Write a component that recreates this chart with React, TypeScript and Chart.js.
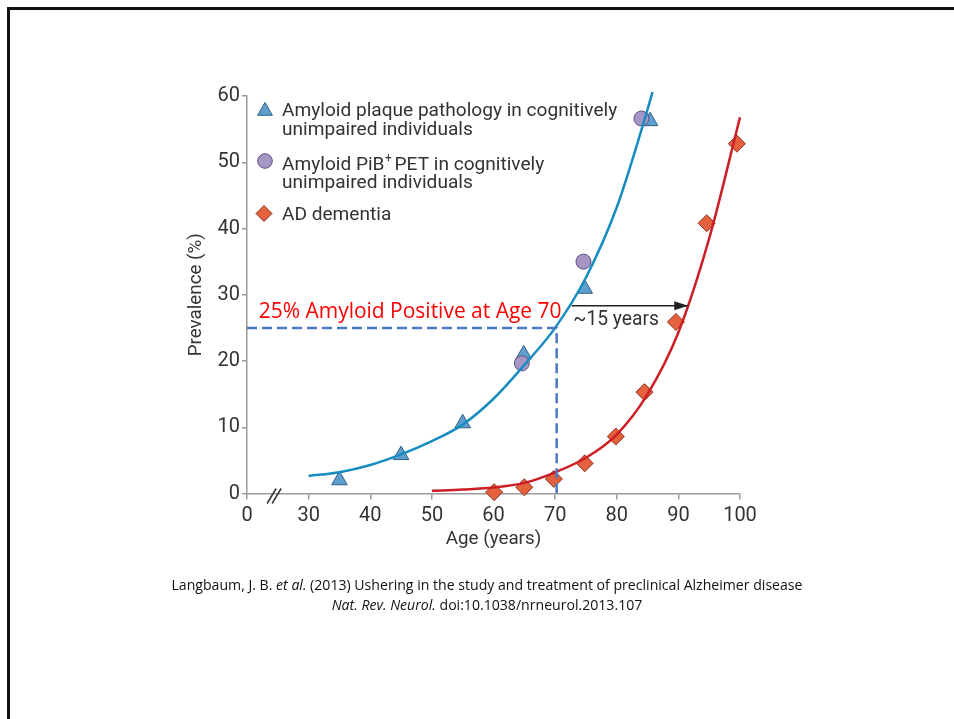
import { useEffect, useRef } from 'react';
import { Chart, registerables } from 'chart.js';

Chart.register(...registerables);

// ---------- data ----------
const xTickValues = [20, 30, 40, 50, 60, 70, 80, 90, 100];
const xTickLabels = ['0', '30', '40', '50', '60', '70', '80', '90', '100'];

const blueCurveAges = [30, 35, 40, 45, 50, 55, 60, 65, 70, 75, 80, 85, 85.8];
const blueCurveVals = [2.65, 3.2, 4.3, 5.9, 7.9, 10.4, 14.3, 19.4, 25.0, 32.6, 43.2, 58.0, 60.6];

const redCurveAges = [50, 55, 60, 65, 70, 75, 80, 85, 90, 95, 100];
const redCurveVals = [0.4, 0.6, 0.9, 1.6, 3.2, 5.4, 8.9, 15.0, 24.3, 38.5, 56.8];

const plaqueAges = [35, 45, 55, 64.9, 74.8, 85.4];
const plaqueVals = [2.0, 5.8, 10.6, 21.0, 30.9, 56.2];

const pibAges = [64.6, 74.6, 84.0];
const pibVals = [19.65, 35.0, 56.6];

const adAges = [60.1, 65.0, 69.8, 74.8, 79.85, 84.5, 89.6, 94.6, 99.5];
const adVals = [0.2, 0.94, 2.2, 4.55, 8.6, 15.3, 25.9, 40.8, 52.8];

const guideAges = [20, 70.25, 70.25];
const guideVals = [25, 25, 0];

const arrowAges = [72.7, 91.6];
const arrowVal = 28.35;

const legendLines = [
  ['Amyloid plaque pathology in cognitively', 'unimpaired individuals'],
  ['Amyloid PiB', '+', ' PET in cognitively', 'unimpaired individuals'],
  ['AD dementia'],
];
const redNote = '25% Amyloid Positive at Age 70';
const yearsNote = '~15 years';
const citeLine1a = 'Langbaum, J. B. ';
const citeLine1b = 'et al.';
const citeLine1c = ' (2013) Ushering in the study and treatment of preclinical Alzheimer disease';
const citeLine2a = 'Nat. Rev. Neurol.';
const citeLine2b = ' doi:10.1038/nrneurol.2013.107';

// ---------- styles ----------
const BLUE_LINE = '#168cc0';
const RED_LINE = '#cc1e24';
const TRI_FILL = '#5f9fcf';
const TRI_STROKE = '#2f5f80';
const CIR_FILL = '#a696c6';
const CIR_STROKE = '#5e4f80';
const DIA_FILL = '#e5603c';
const DIA_STROKE = '#8a3320';
const TEXT = '#333333';
const AXIS = '#9a9a9a';
const FONT = 'Roboto';

function drawTriangle(ctx: CanvasRenderingContext2D, x: number, y: number, r: number) {
  ctx.beginPath();
  for (let i = 0; i < 3; i++) {
    const a = (i * 2 * Math.PI) / 3;
    const px = x + Math.sin(a) * r;
    const py = y - Math.cos(a) * r;
    if (i === 0) ctx.moveTo(px, py);
    else ctx.lineTo(px, py);
  }
  ctx.closePath();
  ctx.fillStyle = TRI_FILL;
  ctx.strokeStyle = TRI_STROKE;
  ctx.lineWidth = 1;
  ctx.fill();
  ctx.stroke();
}
function drawCircle(ctx: CanvasRenderingContext2D, x: number, y: number, r: number) {
  ctx.beginPath();
  ctx.arc(x, y, r, 0, Math.PI * 2);
  ctx.fillStyle = CIR_FILL;
  ctx.strokeStyle = CIR_STROKE;
  ctx.lineWidth = 1;
  ctx.fill();
  ctx.stroke();
}
function drawDiamond(ctx: CanvasRenderingContext2D, x: number, y: number, r: number) {
  ctx.beginPath();
  ctx.moveTo(x - r, y);
  ctx.lineTo(x, y - r);
  ctx.lineTo(x + r, y);
  ctx.lineTo(x, y + r);
  ctx.closePath();
  ctx.fillStyle = DIA_FILL;
  ctx.strokeStyle = DIA_STROKE;
  ctx.lineWidth = 1;
  ctx.fill();
  ctx.stroke();
}

const overlayPlugin = {
  id: 'overlay',
  afterDraw(chart: any) {
    const { ctx, chartArea } = chart;
    const xs = chart.scales.x;
    const ys = chart.scales.y;
    ctx.save();

    // axis break marker
    const bx = xs.getPixelForValue(24.4);
    const by = ys.getPixelForValue(0) + 2;
    ctx.strokeStyle = '#333';
    ctx.lineWidth = 1.5;
    for (const off of [-2.5, 2.5]) {
      ctx.beginPath();
      ctx.moveTo(bx + off - 4.5, by + 8);
      ctx.lineTo(bx + off + 4.5, by - 7);
      ctx.stroke();
    }

    // arrow head
    const tipX = xs.getPixelForValue(arrowAges[1]);
    const tipY = ys.getPixelForValue(arrowVal);
    ctx.fillStyle = '#222';
    ctx.beginPath();
    ctx.moveTo(tipX, tipY);
    ctx.lineTo(tipX - 14, tipY - 4.5);
    ctx.lineTo(tipX - 14, tipY + 4.5);
    ctx.closePath();
    ctx.fill();

    // red note, fitted to its width in the reference
    ctx.font = `20px "Open Sans"`;
    const w20 = ctx.measureText(redNote).width;
    const size = (20 * 303) / w20;
    ctx.font = `${size}px "Open Sans"`;
    ctx.fillStyle = '#ff0000';
    ctx.textBaseline = 'alphabetic';
    ctx.textAlign = 'left';
    ctx.fillText(redNote, xs.getPixelForValue(21.9), ys.getPixelForValue(26.45));

    // ~15 years
    ctx.font = `19.3px ${FONT}`;
    ctx.fillStyle = TEXT;
    ctx.fillText(yearsNote, xs.getPixelForValue(72.95), ys.getPixelForValue(25.5));

    // legend
    const lx = chartArea.left + 18;
    const tx = chartArea.left + 35;
    const top = chartArea.top;
    drawTriangle(ctx, lx, top + 15, 8.5);
    drawCircle(ctx, lx, top + 65, 7.3);
    drawDiamond(ctx, lx - 1, top + 117.5, 8);
    ctx.fillStyle = TEXT;
    const lf = `19.1px ${FONT}`;
    ctx.font = lf;
    ctx.fillText(legendLines[0][0], tx, top + 20);
    ctx.fillText(legendLines[0][1], tx, top + 38.5);
    // PiB+ line with superscript
    let cx = tx;
    ctx.fillText(legendLines[1][0], cx, top + 73.5);
    cx += ctx.measureText(legendLines[1][0]).width + 0.5;
    ctx.font = `12px ${FONT}`;
    ctx.fillText(legendLines[1][1], cx, top + 66);
    cx += ctx.measureText(legendLines[1][1]).width - 2;
    ctx.font = lf;
    ctx.fillText(legendLines[1][2], cx, top + 73.5);
    ctx.fillText(legendLines[1][3], tx, top + 92);
    ctx.fillText(legendLines[2][0], tx, top + 124);

    ctx.restore();
  },
};

export default function App() {
  const ref = useRef<HTMLCanvasElement>(null);

  useEffect(() => {
    const canvas = ref.current!;
    const toXY = (xs: number[], ys: number[]) => xs.map((x, i) => ({ x, y: ys[i] }));

    const chart = new Chart(canvas, {
      type: 'scatter',
      data: {
        datasets: [
          {
            label: 'Amyloid fit',
            data: toXY(blueCurveAges, blueCurveVals),
            showLine: true,
            borderColor: BLUE_LINE,
            borderWidth: 2.5,
            pointRadius: 0,
            cubicInterpolationMode: 'monotone',
            clip: false,
            order: 1,
          },
          {
            label: 'AD fit',
            data: toXY(redCurveAges, redCurveVals),
            showLine: true,
            borderColor: RED_LINE,
            borderWidth: 2.5,
            pointRadius: 0,
            cubicInterpolationMode: 'monotone',
            clip: false,
            order: 1,
          },
          {
            label: '25% guide',
            data: toXY(guideAges, guideVals),
            showLine: true,
            borderColor: '#4a78c4',
            borderWidth: 2.5,
            borderDash: [10, 5],
            pointRadius: 0,
            tension: 0,
            clip: false,
            order: 0,
          },
          {
            label: 'arrow',
            data: toXY(arrowAges, arrowAges.map(() => arrowVal)),
            showLine: true,
            borderColor: '#222',
            borderWidth: 1.5,
            pointRadius: 0,
            clip: false,
            order: 0,
          },
          {
            label: 'Amyloid plaque pathology in cognitively unimpaired individuals',
            data: toXY(plaqueAges, plaqueVals),
            pointStyle: 'triangle',
            pointRadius: 9,
            backgroundColor: TRI_FILL,
            borderColor: TRI_STROKE,
            borderWidth: 1,
            clip: false,
            order: 4,
          },
          {
            label: 'Amyloid PiB+ PET in cognitively unimpaired individuals',
            data: toXY(pibAges, pibVals),
            pointStyle: 'circle',
            pointRadius: 7.5,
            backgroundColor: CIR_FILL,
            borderColor: CIR_STROKE,
            borderWidth: 1,
            clip: false,
            order: 3,
          },
          {
            label: 'AD dementia',
            data: toXY(adAges, adVals),
            pointStyle: 'rectRot',
            pointRadius: 8.5,
            backgroundColor: DIA_FILL,
            borderColor: DIA_STROKE,
            borderWidth: 1,
            clip: false,
            order: 3,
          },
        ],
      },
      options: {
        responsive: false,
        maintainAspectRatio: false,
        animation: false,
        events: [],
        layout: { padding: { left: 180, top: 96, right: 214, bottom: 165.5 } },
        plugins: { legend: { display: false }, tooltip: { enabled: false } },
        scales: {
          x: {
            type: 'linear',
            min: 20,
            max: 100,
            afterFit: (s: any) => {
              s.height = 60;
            },
            afterBuildTicks: (s: any) => {
              s.ticks = xTickValues.map((v) => ({ value: v }));
            },
            ticks: {
              color: TEXT,
              font: { family: FONT, size: 20 },
              padding: 4,
              maxRotation: 0,
              autoSkip: false,
              callback: (v: any) => {
                const i = xTickValues.indexOf(Number(v));
                return i >= 0 ? xTickLabels[i] : '';
              },
            },
            grid: { display: true, drawOnChartArea: false, drawTicks: true, tickLength: 6, color: AXIS, lineWidth: 1.5 },
            border: { display: true, color: AXIS, width: 1.5 },
            title: {
              display: true,
              text: 'Age (years)',
              color: TEXT,
              font: { family: FONT, size: 18.8 },
              padding: { top: 0, bottom: 2.5 },
            },
          },
          y: {
            type: 'linear',
            min: 0,
            max: 60,
            afterFit: (s: any) => {
              s.width = 67;
            },
            ticks: {
              stepSize: 10,
              color: TEXT,
              font: { family: FONT, size: 20 },
              padding: 2,
            },
            grid: { display: true, drawOnChartArea: false, drawTicks: true, tickLength: 5, color: AXIS, lineWidth: 1.5 },
            border: { display: true, color: AXIS, width: 1.5 },
            title: {
              display: true,
              text: 'Prevalence (%)',
              color: TEXT,
              font: { family: FONT, size: 18.8 },
              padding: { top: 5, bottom: 0 },
            },
          },
        },
      },
      plugins: [overlayPlugin],
    } as any);

    return () => chart.destroy();
  }, []);

  const citeStyle: React.CSSProperties = {
    position: 'absolute',
    left: 487,
    transform: 'translateX(-50%)',
    whiteSpace: 'nowrap',
    fontFamily: '"Open Sans", sans-serif',
    fontSize: 14.1,
    lineHeight: '18px',
    color: '#111',
  };

  return (
    <div style={{ position: 'absolute', left: 0, top: 0, width: 954, height: 719, background: '#fff', overflow: 'hidden' }}>
      <div
        style={{
          position: 'absolute',
          left: 7,
          top: 7,
          width: 960,
          height: 720,
          borderTop: '3px solid #111',
          borderLeft: '3px solid #111',
        }}
      />
      <canvas ref={ref} width={954} height={719} style={{ position: 'absolute', left: 0, top: 0 }} />
      <div style={{ ...citeStyle, top: 576 }}>
        {citeLine1a}
        <i>{citeLine1b}</i>
        {citeLine1c}
      </div>
      <div style={{ ...citeStyle, top: 596 }}>
        <i>{citeLine2a}</i>
        {citeLine2b}
      </div>
    </div>
  );
}
